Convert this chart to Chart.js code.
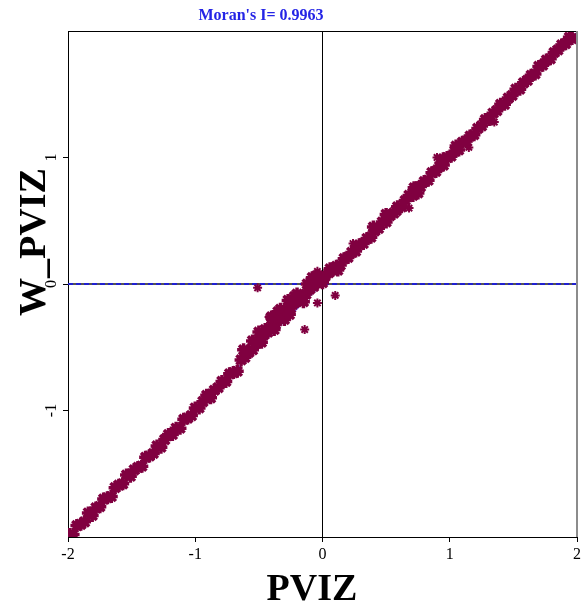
<!DOCTYPE html>
<html>
<head>
<meta charset="utf-8">
<script src="https://cdn.jsdelivr.net/npm/chart.js@4.4.1/dist/chart.umd.min.js"></script>
<style>
  html, body { margin: 0; padding: 0; background: #fff; }
  #moran { display: block; }
</style>
</head>
<body>
<canvas id="moran" width="587" height="606"></canvas>
<script>
// values (standardised PVIZ vs spatial lag W_PVIZ)
const bandX = [-1.99, -1.96, -1.93, -1.90, -1.87, -1.84, -1.81, -1.78, -1.75, -1.72, -1.69, -1.66, -1.63, -1.60, -1.57, -1.54, -1.51, -1.48, -1.45, -1.42,
  -1.39, -1.36, -1.33, -1.30, -1.27, -1.24, -1.21, -1.18, -1.15, -1.12, -1.09, -1.06, -1.03, -1.00, -0.97, -0.94, -0.91, -0.88, -0.85, -0.82,
  -0.79, -0.76, -0.73, -0.70, -0.67, -0.64, -0.61, -0.58, -0.55, -0.52, -0.49, -0.46, -0.43, -0.40, -0.37, -0.34, -0.31, -0.28, -0.25, -0.22,
  -0.19, -0.16, -0.13, -0.10, -0.07, -0.04, -0.01, 0.02, 0.05, 0.08, 0.11, 0.14, 0.17, 0.20, 0.23, 0.26, 0.29, 0.32, 0.35, 0.38,
  0.41, 0.44, 0.47, 0.50, 0.53, 0.56, 0.59, 0.62, 0.65, 0.68, 0.71, 0.74, 0.77, 0.80, 0.83, 0.86, 0.89, 0.92, 0.95, 0.98,
  1.01, 1.04, 1.07, 1.10, 1.13, 1.16, 1.19, 1.22, 1.25, 1.28, 1.31, 1.34, 1.37, 1.40, 1.43, 1.46, 1.49, 1.52, 1.55, 1.58,
  1.61, 1.64, 1.67, 1.70, 1.73, 1.76, 1.79, 1.82, 1.85, 1.88, 1.91, 1.94, 1.96];
const bandY = [-1.98, -1.98, -1.91, -1.90, -1.88, -1.81, -1.83, -1.77, -1.76, -1.70, -1.69, -1.68, -1.61, -1.59, -1.58, -1.51, -1.52, -1.47, -1.45, -1.44,
  -1.37, -1.36, -1.34, -1.28, -1.29, -1.23, -1.19, -1.19, -1.14, -1.14, -1.07, -1.06, -1.04, -0.98, -0.98, -0.93, -0.88, -0.90, -0.84, -0.82,
  -0.77, -0.77, -0.71, -0.70, -0.69, -0.60, -0.58, -0.54, -0.52, -0.47, -0.45, -0.40, -0.38, -0.33, -0.32, -0.27, -0.26, -0.21, -0.19, -0.15,
  -0.13, -0.10, -0.08, -0.04, -0.02, 0.01, 0.04, 0.06, 0.09, 0.11, 0.14, 0.15, 0.20, 0.21, 0.25, 0.26, 0.31, 0.32, 0.36, 0.37,
  0.42, 0.44, 0.49, 0.49, 0.54, 0.56, 0.61, 0.61, 0.66, 0.70, 0.70, 0.76, 0.77, 0.81, 0.82, 0.88, 0.89, 0.93, 0.94, 1.00,
  1.01, 1.05, 1.06, 1.12, 1.13, 1.17, 1.18, 1.23, 1.25, 1.30, 1.30, 1.35, 1.37, 1.42, 1.42, 1.47, 1.49, 1.54, 1.54, 1.59,
  1.61, 1.65, 1.66, 1.72, 1.73, 1.77, 1.78, 1.83, 1.85, 1.89, 1.90, 1.95, 1.94];

// extra points that thicken the cloud around the origin
const thickX = [-0.62, -0.55, -0.50, -0.48, -0.45, -0.40, -0.38, -0.35, -0.33, -0.30, -0.27, -0.26, -0.22, -0.20, -0.15, -0.12, -0.08,
  -0.05, 0.00, 0.06, 0.12, 0.40, 0.50, 0.58, 0.72, 0.75, 0.95, 1.05];
const thickY = [-0.52, -0.45, -0.38, -0.46, -0.36, -0.26, -0.36, -0.22, -0.20, -0.28, -0.13, -0.24, -0.10, -0.08, -0.14, 0.00, 0.05,
  0.06, 0.01, 0.12, 0.11, 0.45, 0.55, 0.58, 0.76, 0.72, 0.99, 1.09];

// points lying off the band
const outX = [-0.51, 0.10, -0.42, -0.14, -0.04, -0.24, -0.04, 0.24, 0.68, 1.35, 1.15, 0.90];
const outY = [-0.03, -0.09, -0.26, -0.36, -0.15, -0.13, 0.10, 0.32, 0.60, 1.28, 1.08, 1.00];

// fitted line, Moran's I = 0.9963
const moranI = 0.9963;
const fitX = [-2, 2];
const fitY = [-2 * moranI, 2 * moranI];

const xTicks = [-2, -1, 0, 1, 2];
const yTickLabels = [-1, 0, 1];

const serif = '"Liberation Serif", "Times New Roman", serif';
const pointColor = '#800040';

function pairs(xs, ys) {
    return xs.map((v, i) => ({ x: v, y: ys[i] }));
}

// borders, rotated y labels and titles
const decorations = {
    id: 'decorations',
    afterDraw(chart) {
        const { ctx, chartArea: a, scales: { y } } = chart;
        ctx.save();

        ctx.strokeStyle = '#000';
        ctx.lineWidth = 1;
        ctx.beginPath();
        ctx.moveTo(a.left, a.top + 0.5);
        ctx.lineTo(a.right, a.top + 0.5);
        ctx.stroke();

        ctx.strokeStyle = '#8c8c8c';
        ctx.lineWidth = 2;
        ctx.beginPath();
        ctx.moveTo(a.right, a.top);
        ctx.lineTo(a.right, a.bottom);
        ctx.stroke();

        ctx.fillStyle = '#000';
        ctx.font = '16px ' + serif;
        ctx.textAlign = 'center';
        ctx.textBaseline = 'alphabetic';
        yTickLabels.forEach(v => {
            ctx.save();
            ctx.translate(56, y.getPixelForValue(v));
            ctx.rotate(-Math.PI / 2);
            ctx.fillText(String(v), 0, 0);
            ctx.restore();
        });

        ctx.save();
        ctx.font = 'bold 38px ' + serif;
        ctx.translate(45, 242);
        ctx.rotate(-Math.PI / 2);
        ctx.fillText('W_PVIZ', 0, 0);
        ctx.restore();

        ctx.font = 'bold 38px ' + serif;
        ctx.fillText('PVIZ', 312, 600);

        ctx.fillStyle = '#2424e6';
        ctx.font = 'bold 16px ' + serif;
        ctx.fillText("Moran's I= " + moranI, 261, 20);

        ctx.restore();
    }
};

window.onload = function () {
    const ctx = document.getElementById('moran').getContext('2d');

    new Chart(ctx, {
        type: 'scatter',
        data: {
            datasets: [
                {
                    label: 'band',
                    data: pairs(bandX, bandY).concat(pairs(thickX, thickY)),
                    pointStyle: 'star',
                    pointRadius: 6.5,
                    borderColor: pointColor,
                    backgroundColor: pointColor,
                    borderWidth: 3.5
                },
                {
                    label: 'outliers',
                    data: pairs(outX, outY),
                    pointStyle: 'star',
                    pointRadius: 4.5,
                    borderColor: pointColor,
                    backgroundColor: pointColor,
                    borderWidth: 2
                },
                {
                    label: 'fit',
                    type: 'line',
                    data: pairs(fitX, fitY),
                    borderColor: '#3a3aff',
                    borderWidth: 1,
                    pointRadius: 0
                },
                {
                    label: 'zero dash',
                    type: 'line',
                    data: pairs(fitX, [0, 0]),
                    borderColor: '#2020d0',
                    borderWidth: 2,
                    borderDash: [5, 3],
                    pointRadius: 0
                },
                {
                    label: 'zero base',
                    type: 'line',
                    data: pairs(fitX, [0, 0]),
                    borderColor: '#555',
                    borderWidth: 2,
                    pointRadius: 0
                },
                {
                    label: 'x zero',
                    type: 'line',
                    data: pairs([0, 0], [-2, 2]),
                    borderColor: '#000',
                    borderWidth: 1,
                    pointRadius: 0
                }
            ]
        },
        options: {
            responsive: false,
            animation: false,
            layout: { padding: { top: 31, right: 10, left: 0, bottom: 0 } },
            plugins: {
                legend: { display: false },
                tooltip: { enabled: false }
            },
            scales: {
                x: {
                    type: 'linear',
                    min: -2,
                    max: 2,
                    afterFit: s => { s.height = 69; },
                    afterBuildTicks: s => { s.ticks = xTicks.map(v => ({ value: v })); },
                    ticks: {
                        color: '#000',
                        font: { family: serif, size: 16 },
                        padding: 3,
                        maxRotation: 0
                    },
                    grid: { drawOnChartArea: false, tickLength: 5, color: '#000' },
                    border: { color: '#000', width: 1 }
                },
                y: {
                    type: 'linear',
                    min: -2,
                    max: 2,
                    afterFit: s => { s.width = 68; },
                    afterBuildTicks: s => { s.ticks = yTickLabels.map(v => ({ value: v })); },
                    ticks: { display: false },
                    grid: { drawOnChartArea: false, tickLength: 5, color: '#000' },
                    border: { color: '#000', width: 1 }
                }
            }
        },
        plugins: [decorations]
    });
};
</script>
</body>
</html>
